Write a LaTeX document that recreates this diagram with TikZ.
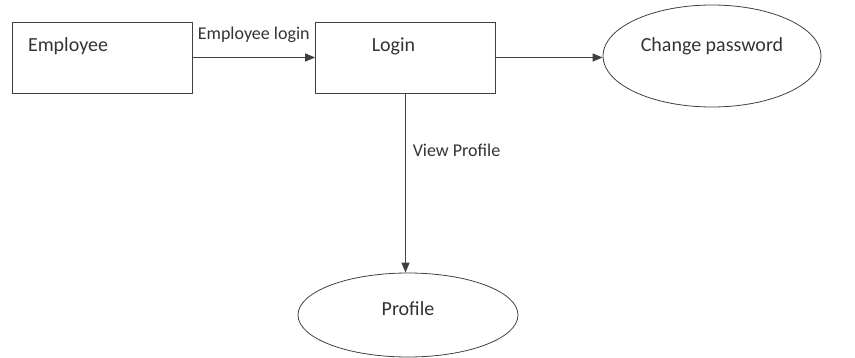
\documentclass[tikz,border=0pt]{standalone}
\usepackage{fontspec}
\setmainfont{Carlito}
\usepackage{tikz}
\usetikzlibrary{arrows.meta,shapes.geometric}

\begin{document}
\begin{tikzpicture}[x=0.5pt, y=-0.5pt, font=\fontsize{10}{12}\selectfont, text=black!80]
\tikzset{entity/.style={draw=black!75, rectangle, inner sep=0pt, minimum width=90pt, minimum height=35.5pt, text height=8pt, text depth=14pt},
  process/.style={draw=black!75, ellipse, inner sep=0pt, text height=8pt, text depth=12pt},
  flow/.style={draw=black!75, line width=0.6pt, -{Triangle[length=5pt, width=4pt]}},
  flowlabel/.style={font=\fontsize{9}{11}\selectfont}}
\useasboundingbox (0,0) rectangle (855,358);
\node[entity, text width=74pt, align=left] (emp) at (102,57.5) {Employee};
\node[entity] (login) at (405.5,57.5) {Login\hspace*{12pt}};
\node[process, minimum width=109pt, minimum height=51pt] (chpass) at (712,56) {Change password};
\node[process, minimum width=110pt, minimum height=42pt, text depth=8pt] (profile) at (408,315) {Profile};
\draw[flow] (emp.east) -- node[flowlabel, above, yshift=4pt]{Employee login} (login.west);
\draw[flow] (login.east) -- (login.east -| chpass.west);
\draw[flow] (login.south) -- node[flowlabel, pos=0.32, right]{View Profile} (login.south |- profile.north);
\end{tikzpicture}
\end{document}
